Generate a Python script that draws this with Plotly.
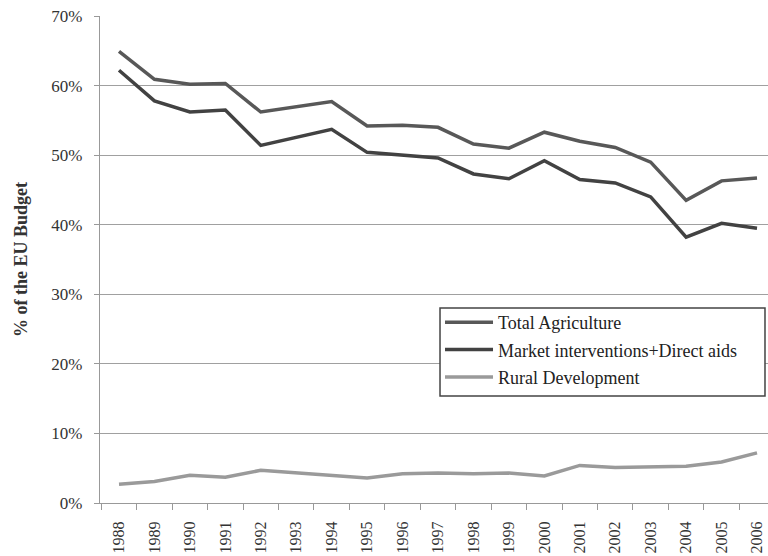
import plotly.graph_objects as go

years = [str(y) for y in range(1988, 2007)]

total_agriculture = [64.9, 60.9, 60.2, 60.3, 56.2, 57.0, 57.7, 54.2, 54.3, 54.0,
                     51.6, 51.0, 53.3, 52.0, 51.1, 49.0, 43.5, 46.3, 46.7]
market_direct = [62.2, 57.8, 56.2, 56.5, 51.4, 52.5, 53.7, 50.4, 50.0, 49.6,
                 47.3, 46.6, 49.2, 46.5, 46.0, 44.0, 38.2, 40.2, 39.5]
rural_development = [2.7, 3.1, 4.0, 3.7, 4.7, 4.3, 3.9, 3.6, 4.2, 4.3,
                     4.2, 4.3, 3.9, 5.4, 5.1, 5.2, 5.3, 5.9, 7.2]

serif = "Liberation Serif, Times New Roman, serif"

fig = go.Figure()
fig.add_trace(go.Scatter(x=years, y=total_agriculture, mode="lines",
                         name="Total Agriculture", legendgroup="a",
                         line=dict(color="#585858", width=3.5)))
fig.add_trace(go.Scatter(x=years, y=market_direct, mode="lines",
                         name="Market interventions+Direct aids", legendgroup="b",
                         line=dict(color="#424242", width=3.5)))
fig.add_trace(go.Scatter(x=years, y=rural_development, mode="lines",
                         name="Rural Development", legendgroup="c",
                         line=dict(color="#9a9a9a", width=3.5)))

# legend frame drawn as a white box so gridlines stop at its edge
fig.add_shape(type="rect", xref="paper", yref="paper",
              x0=0.509, x1=0.9955, y0=0.2197, y1=0.4004,
              fillcolor="white", line=dict(color="#444444", width=1.5),
              layer="above")

fig.update_layout(
    width=768, height=556,
    margin=dict(l=100, r=0, t=16, b=53),
    paper_bgcolor="white", plot_bgcolor="white",
    font=dict(family=serif, size=17, color="#333333"),
    showlegend=True,
    legend=dict(
        x=0.509, y=0.4086, xanchor="left", yanchor="top",
        bgcolor="rgba(0,0,0,0)", borderwidth=0,
        font=dict(family=serif, size=18, color="#222222"),
        tracegroupgap=1, itemwidth=48,
    ),
)

fig.update_xaxes(
    type="category",
    range=[-0.536, 18.31],
    tickangle=-90,
    ticks="outside", ticklen=6, tickcolor="#999999", tickwidth=1,
    tickson="boundaries",
    ticklabelstandoff=11,
    automargin=False,
    showgrid=False,
    showline=True, linecolor="#999999", linewidth=1.3,
    tickfont=dict(family=serif, size=16, color="#333333"),
)

fig.update_yaxes(
    range=[0, 70], dtick=10, ticksuffix="%",
    ticks="outside", ticklen=5, tickcolor="#999999", tickwidth=1,
    ticklabelstandoff=8,
    automargin=False,
    showgrid=True, gridcolor="#a0a0a0", gridwidth=1.3,
    zeroline=False,
    showline=True, linecolor="#999999", linewidth=1.3,
    tickfont=dict(family=serif, size=17, color="#333333"),
    title=dict(text="<b>% of the EU Budget</b>",
               font=dict(family=serif, size=18, color="#333333"),
               standoff=18),
)

fig.write_html("out.html")
